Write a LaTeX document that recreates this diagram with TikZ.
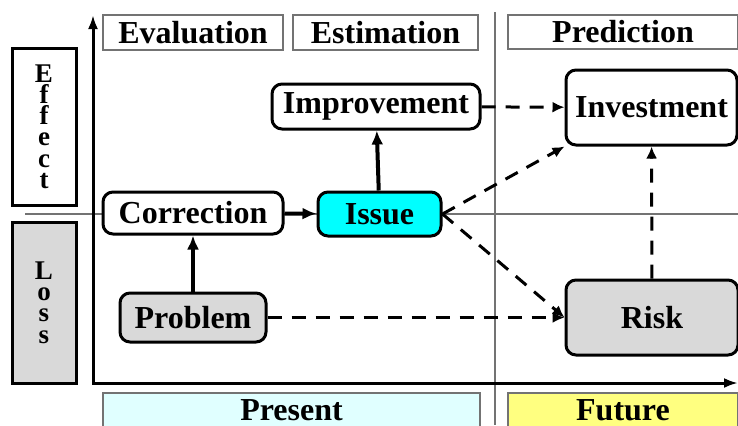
\documentclass[tikz,border=0pt]{standalone}
\usepackage{fontspec}
\setmainfont{Liberation Serif}
\usetikzlibrary{positioning}
\usetikzlibrary{arrows.meta}
\definecolor{issuecyan}{rgb}{0,1,1}
\definecolor{lossgray}{rgb}{0.85,0.85,0.85}
\definecolor{presentcyan}{rgb}{0.88,1,1}
\definecolor{futureyellow}{rgb}{1,1,0.5}
\definecolor{framegray}{rgb}{0.45,0.45,0.45}

\begin{document}
\begin{tikzpicture}
    [x=0.5pt, y=-0.5pt,
    block/.style={draw, rounded corners=5pt, line width=1.5pt, fill=white, inner sep=0pt, font=\fontsize{16}{19}\selectfont\bfseries},
    header/.style={draw=framegray, line width=0.9pt, fill=white, inner sep=0pt, font=\fontsize{16}{19}\selectfont\bfseries},
    side/.style={draw, line width=1.5pt, inner sep=0pt, align=center, minimum width=32pt, font=\fontsize{13.5}{10.6}\selectfont\bfseries},
    flow/.style={->, >={Latex[length=7pt,width=6pt]}, line width=2pt},
    guess/.style={->, >={Latex[length=6pt,width=5.5pt]}, line width=1.5pt, dash pattern=on 7pt off 5pt}]
     \clip (0,0) rectangle (738,425);
     %\draw[step=50,gray,very thin] (0,0) grid (738,425);
     \coordinate (top) at (93,15);
     \coordinate (origin) at (93,383);
     \coordinate (right) at (738,383);
     \draw[framegray, line width=0.7pt] (25,214) -- (738,214);
     \draw[framegray, line width=1pt] (495,12) -- (495,425);
     \draw[{Latex[length=7pt,width=5pt]}-{Latex[length=7pt,width=5pt]}, line width=1.5pt] (top) -- (origin) -- (right);
     \node[side, minimum height=78.5pt] (effect) at (44,126.5)   {E\\f\\f\\e\\c\\t};
     \node[side, fill=lossgray, minimum height=80.5pt] (loss) at (44,302.5) {L\\o\\s\\s};
     \node[header, minimum width=90pt, minimum height=17.5pt] (evaluation) at (193,32.5)   {Evaluation};
     \node[header, minimum width=92.5pt, minimum height=17.5pt] (estimation) at (385.5,32.5) {Estimation};
     \node[header, minimum width=115pt, minimum height=17pt] (prediction) at (623,32)       {Prediction};
     \node[header, fill=presentcyan, minimum width=188.5pt, minimum height=20pt, text depth=3pt] (present) at (291.5,413) {Present};
     \node[header, fill=futureyellow, minimum width=115pt, minimum height=20pt, text depth=3pt] (future) at (623,413)    {Future};
     \node[block, minimum width=104pt, minimum height=22.5pt] (improvement) at (376,106.5) {Improvement};
     \node[block, minimum width=85.5pt, minimum height=37.5pt] (investment) at (651.5,107.5) {Investment};
     \node[block, minimum width=90pt, minimum height=21pt] (correction) at (193,213)      {Correction};
     \node[block, fill=issuecyan, minimum width=61.5pt, minimum height=22pt] (issue) at (379.5,214) {Issue};
     \node[block, fill=lossgray, minimum width=73pt, minimum height=24.5pt] (problem) at (193,317.5) {Problem};
     \node[block, fill=lossgray, minimum width=86pt, minimum height=37.5pt] (risk) at (652,317.5) {Risk};
     \draw[flow] (problem) -- (correction);
     \draw[flow] (correction) -- (issue);
     \draw[flow] (issue) -- (improvement);
     \draw[guess] (improvement) -- (investment);
     \draw[guess] (issue.east) -- (investment.south west);
     \draw[guess] (issue.east) -- (risk.west);
     \draw[guess] (problem) -- (problem -| risk.west);
     \draw[guess] (risk) -- (investment);
\end{tikzpicture}
\end{document}
